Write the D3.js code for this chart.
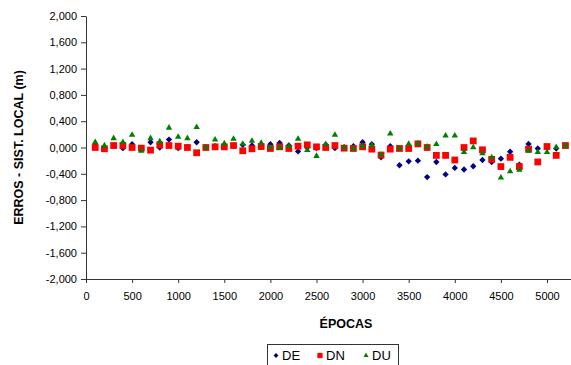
<!DOCTYPE html>
<html>
<head>
<meta charset="utf-8">
<script src="https://cdn.jsdelivr.net/npm/d3@7"></script>
<style>
  body { margin: 0; background: #fff; }
  text { font-family: "Liberation Sans", Arial, sans-serif; fill: #000; }
</style>
</head>
<body>
<div id="chart"></div>
<script>
// epochs 100..5200
const epocas = [100,200,300,400,500,600,700,800,900,1000,1100,1200,1300,1400,1500,1600,1700,1800,1900,2000,
  2100,2200,2300,2400,2500,2600,2700,2800,2900,3000,3100,3200,3300,3400,3500,3600,3700,3800,3900,4000,
  4100,4200,4300,4400,4500,4600,4700,4800,4900,5000,5100,5200];

const DE = [0.03,0.00,0.03,-0.01,0.05,-0.02,0.08,0.00,0.12,-0.01,0.01,0.08,0.00,0.02,0.02,0.02,0.04,0.03,0.01,0.05,
  0.07,0.03,-0.06,0.00,-0.01,0.04,-0.01,0.00,0.02,0.08,0.05,-0.15,0.02,-0.27,-0.21,-0.20,-0.45,-0.22,-0.41,-0.31,
  -0.335,-0.285,-0.19,-0.22,-0.17,-0.065,-0.26,0.055,-0.015,0.00,-0.015,0.03];

const DN = [0.00,-0.02,0.03,0.03,0.00,-0.01,-0.04,0.04,0.03,0.02,0.00,-0.08,0.00,0.01,0.01,0.03,-0.05,-0.02,0.015,-0.015,
  0.01,-0.015,0.02,0.04,0.01,0.00,0.03,-0.01,-0.015,0.01,-0.025,-0.115,-0.025,-0.015,-0.015,0.055,0.00,-0.12,-0.12,-0.19,
  0.00,0.10,-0.035,-0.18,-0.29,-0.15,-0.29,-0.025,-0.22,0.015,-0.12,0.03];

const DU = [0.08,0.03,0.14,0.08,0.19,-0.05,0.14,0.09,0.30,0.16,0.14,0.31,0.00,0.12,0.06,0.13,0.055,0.10,0.07,0.00,
  0.00,0.02,0.13,-0.04,-0.13,0.05,0.19,0.00,-0.015,0.015,0.035,-0.11,0.21,-0.015,0.055,0.06,0.01,0.05,0.18,0.18,
  -0.07,0.00,-0.09,-0.15,-0.46,-0.365,-0.34,-0.05,-0.07,-0.07,0.005,0.03];

const xTicks = [0,500,1000,1500,2000,2500,3000,3500,4000,4500,5000];
const yTicks = [-2,-1.6,-1.2,-0.8,-0.4,0,0.4,0.8,1.2,1.6,2];

const width = 571, height = 365;
const plotLeft = 86, plotTop = 16, plotBottom = 279;

const svg = d3.select('#chart').append('svg')
  .attr('width', width)
  .attr('height', height);

const x = d3.scaleLinear().domain([0, 5300]).range([plotLeft, plotLeft + 5300 * 0.0922]);
const y = d3.scaleLinear().domain([-2, 2]).range([plotBottom, plotTop]);

const fmt = v => d3.format('.3f')(v).replace('.', ',').replace('−', '-');

// x axis
const xAxis = svg.append('g')
  .attr('transform', `translate(0,${plotBottom})`)
  .call(d3.axisBottom(x).tickValues(xTicks).tickFormat(d3.format('d')).tickSize(4).tickSizeOuter(0).tickPadding(9));
xAxis.select('.domain').attr('stroke', '#333');
xAxis.selectAll('.tick line').attr('stroke', '#333');
xAxis.selectAll('text').attr('font-size', 11).style('font-family', '"Liberation Sans", Arial, sans-serif');

// y axis
const yAxis = svg.append('g')
  .attr('transform', `translate(${plotLeft},0)`)
  .call(d3.axisLeft(y).tickValues(yTicks).tickFormat(fmt).tickSize(5).tickSizeOuter(0).tickPadding(4));
yAxis.select('.domain').attr('stroke', '#333');
yAxis.selectAll('.tick line').attr('stroke', '#333');
yAxis.selectAll('text').attr('font-size', 11).style('font-family', '"Liberation Sans", Arial, sans-serif');

// axis titles
svg.append('text')
  .attr('x', 346).attr('y', 328)
  .attr('text-anchor', 'middle')
  .attr('font-size', 12.5).attr('font-weight', 'bold')
  .text('ÉPOCAS');

svg.append('text')
  .attr('transform', `translate(23,${(plotTop + plotBottom) / 2}) rotate(-90)`)
  .attr('text-anchor', 'middle')
  .attr('font-size', 12.5).attr('font-weight', 'bold')
  .text('ERROS - SIST. LOCAL (m)');

// series
const series = [
  {name: 'DE', values: DE, color: '#000080', shape: d3.symbolSquare, size: 20, rot: 45},
  {name: 'DN', values: DN, color: '#ff0000', shape: d3.symbolSquare, size: 46, rot: 0},
  {name: 'DU', values: DU, color: '#008000', shape: d3.symbolTriangle, size: 18, rot: 0}
];

series.forEach(s => {
  svg.append('g').selectAll('path')
    .data(epocas.map((e, i) => [e, s.values[i]]))
    .enter().append('path')
    .attr('d', d3.symbol().type(s.shape).size(s.size))
    .attr('transform', d => `translate(${x(d[0])},${y(d[1])}) rotate(${s.rot})`)
    .attr('fill', s.color);
});

// legend
const legend = svg.append('g');
legend.append('rect')
  .attr('x', 267.5).attr('y', 344.5)
  .attr('width', 131).attr('height', 30)
  .attr('fill', '#fff').attr('stroke', '#333');

const legX = [276, 320, 366];
series.forEach((s, i) => {
  legend.append('path')
    .attr('d', d3.symbol().type(s.shape).size(s.size * 0.6))
    .attr('transform', `translate(${legX[i]},355.5) rotate(${s.rot})`)
    .attr('fill', s.color);
  legend.append('text')
    .attr('x', legX[i] + 6).attr('y', 360)
    .attr('font-size', 13)
    .text(s.name);
});
</script>
</body>
</html>
